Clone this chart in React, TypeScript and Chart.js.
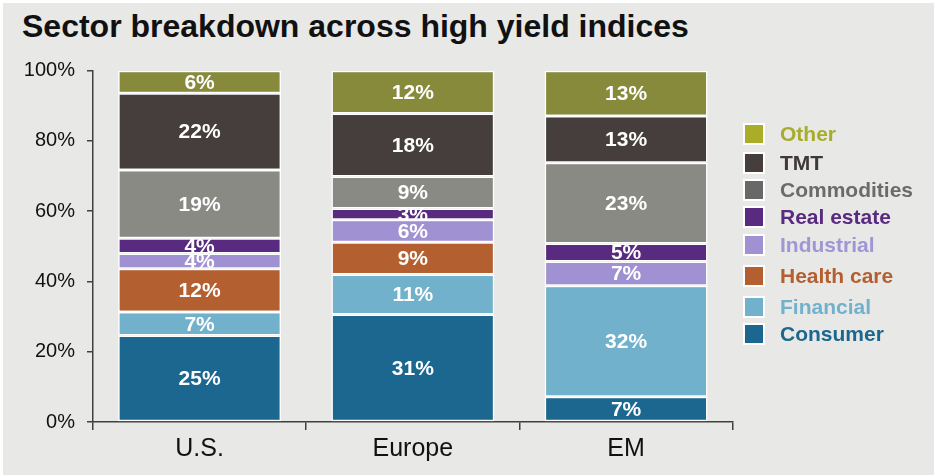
import React, { useEffect, useRef } from "react";
import { Chart, registerables } from "chart.js";

Chart.register(...registerables);

const TITLE = "Sector breakdown across high yield indices";
const categories = ["U.S.", "Europe", "EM"];
const seriesNames = ["Consumer", "Financial", "Health care", "Industrial", "Real estate", "Commodities", "TMT", "Other"];
const consumer = [24.6, 30.6, 7.2];
const financial = [6.7, 11.4, 31.6];
const healthCare = [12.3, 9.2, 0];
const industrial = [4.4, 6.4, 6.9];
const realEstate = [4.3, 3.2, 5.1];
const commodities = [19.4, 9.1, 23.0];
const tmt = [21.9, 17.9, 13.3];
const other = [6.4, 12.2, 12.9];
const yTicks = [0, 20, 40, 60, 80, 100];

const barColors = ["#1b678f", "#72b1cb", "#b45f30", "#a092d2", "#582a80", "#8a8a84", "#463e3d", "#868a3a"];
const legendBoxColors = ["#1b678f", "#72b1cb", "#b45f30", "#a092d2", "#582a80", "#686868", "#463e3d", "#a9ad28"];
const legendTextColors = ["#1b678f", "#72b1cb", "#b45f30", "#a096d6", "#582a80", "#6b6b6b", "#3f3939", "#a8ac2c"];
// legend row centres (px), bottom series first
const legendRowY = [334, 306.7, 275.7, 245, 217.3, 190, 162.7, 134];

const FONT = "Arial, 'Liberation Sans', sans-serif";

const valueLabels = {
  id: "valueLabels",
  afterDatasetsDraw(chart: any) {
    const ctx = chart.ctx;
    ctx.save();
    ctx.font = `bold 21px ${FONT}`;
    ctx.fillStyle = "#ffffff";
    ctx.textAlign = "center";
    ctx.textBaseline = "middle";
    chart.data.datasets.forEach((ds: any, di: number) => {
      const meta = chart.getDatasetMeta(di);
      meta.data.forEach((el: any, i: number) => {
        const v = ds.data[i];
        if (v === null || v === undefined || v === 0) return;
        const y = (el.y + el.base) / 2 + 1;
        ctx.fillText(`${Math.round(v)}%`, el.x, y);
      });
    });
    ctx.restore();
  },
};

export default function App() {
  const ref = useRef<HTMLCanvasElement | null>(null);

  useEffect(() => {
    if (!ref.current) return;
    const values = [consumer, financial, healthCare, industrial, realEstate, commodities, tmt, other];
    const chart = new Chart(ref.current, {
      type: "bar",
      data: {
        labels: categories,
        datasets: seriesNames.map((name, i) => ({
          label: name,
          data: values[i].map((v) => (v === 0 ? null : v)),
          backgroundColor: barColors[i],
          borderColor: "#ffffff",
          borderWidth: 1.5,
          borderSkipped: false,
          barPercentage: 0.764,
          categoryPercentage: 1,
        })),
      },
      options: {
        animation: false,
        responsive: false,
        maintainAspectRatio: false,
        layout: { padding: { top: 70.7, right: 204.3, left: 0, bottom: 0 } },
        plugins: {
          legend: { display: false },
          title: { display: false },
          tooltip: { enabled: false },
        },
        scales: {
          x: {
            stacked: true,
            offset: true,
            grid: {
              offset: true,
              drawOnChartArea: false,
              drawTicks: true,
              tickLength: 8,
              color: "#404040",
              lineWidth: 1.5,
            },
            border: { display: true, color: "#404040", width: 1.5 },
            ticks: { color: "#111111", font: { size: 25, family: FONT }, padding: 4 },
            afterFit: (s: any) => {
              s.height = 54;
            },
          },
          y: {
            stacked: true,
            min: 0,
            max: 100,
            afterBuildTicks: (s: any) => {
              s.ticks = yTicks.map((v) => ({ value: v }));
            },
            ticks: {
              color: "#111111",
              font: { size: 20, family: FONT },
              padding: 12,
              callback: (v: any) => `${v}%`,
            },
            grid: {
              drawOnChartArea: false,
              drawTicks: true,
              tickLength: 6,
              color: "#404040",
              lineWidth: 1.5,
            },
            border: { display: true, color: "#404040", width: 1.5 },
            afterFit: (s: any) => {
              s.width = 93;
            },
          },
        },
      },
      plugins: [valueLabels],
    } as any);
    return () => chart.destroy();
  }, []);

  return (
    <div
      style={{
        position: "absolute",
        left: 0,
        top: 0,
        width: 937,
        height: 476,
        background: "#ffffff",
        fontFamily: FONT,
      }}
    >
      <div
        style={{
          position: "absolute",
          left: 3,
          top: 3,
          right: 3,
          bottom: 1,
          background: "#e8e8e6",
        }}
      />
      <div
        style={{
          position: "absolute",
          left: 22,
          top: 10,
          fontSize: 32,
          lineHeight: "32px",
          fontWeight: "bold",
          color: "#111111",
          whiteSpace: "nowrap",
        }}
      >
        {TITLE}
      </div>
      <canvas
        ref={ref}
        width={937}
        height={476}
        style={{ position: "absolute", left: 0, top: 0, width: 937, height: 476 }}
      />
      {seriesNames.map((name, i) => (
        <div
          key={name}
          style={{
            position: "absolute",
            left: 743,
            top: legendRowY[i] - 11,
            height: 22,
            display: "flex",
            alignItems: "center",
            whiteSpace: "nowrap",
          }}
        >
          <div
            style={{
              width: 18,
              height: 18,
              border: "2px solid #ffffff",
              background: legendBoxColors[i],
            }}
          />
          <div
            style={{
              marginLeft: 15,
              fontSize: 21,
              lineHeight: "22px",
              fontWeight: "bold",
              color: legendTextColors[i],
            }}
          >
            {name}
          </div>
        </div>
      ))}
    </div>
  );
}
